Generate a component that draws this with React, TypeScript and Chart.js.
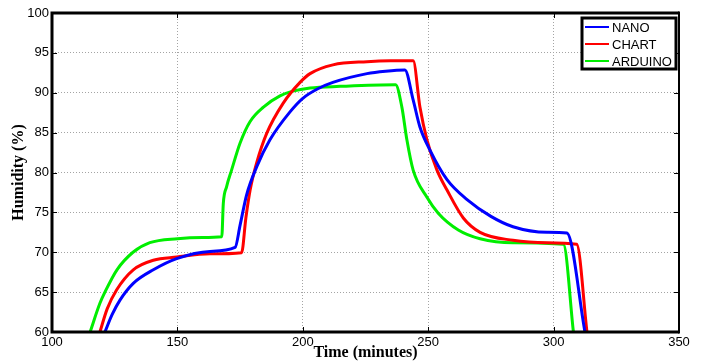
import React, { useEffect, useRef } from "react";
import { Chart, registerables } from "chart.js";

Chart.register(...registerables);

const xTicks = [100, 150, 200, 250, 300, 350];
const yTicks = [60, 65, 70, 75, 80, 85, 90, 95, 100];

const nanoT = [121.1, 124, 127.1, 132.4, 140.4, 149.7, 163, 173, 175, 177.6, 181.6, 186.9, 194.9, 200, 206, 212, 225.6, 233, 240.7, 244, 246.7, 250.7, 257.5, 265.5, 275, 283.8, 297.4, 305.3, 312.5];
const nanoH = [60, 62.2, 64.0, 66.1, 67.8, 69.2, 70.1, 70.6, 73.4, 77.2, 80.7, 84.1, 87.6, 89.3, 90.5, 91.3, 92.4, 92.7, 92.85, 89.1, 85.7, 82.8, 79.1, 76.6, 74.5, 73.2, 72.5, 72.4, 60];

const chartT = [119.1, 122, 125.8, 132.4, 140.4, 149.7, 163, 175.6, 177.3, 179, 181.6, 185.6, 192.2, 198.9, 202.9, 212, 225.6, 235, 244, 246.7, 249.5, 253.5, 257.5, 264, 270.7, 283.8, 297.4, 309.2, 313.3];
const chartH = [60, 62.9, 65.3, 67.8, 69.0, 69.4, 69.8, 69.95, 74.3, 77.8, 81.2, 84.9, 88.7, 91.3, 92.4, 93.5, 93.9, 94.0, 94.0, 88.2, 84.1, 80.3, 77.8, 74.3, 72.5, 71.5, 71.2, 71.0, 60];

const arduinoT = [115.2, 119.1, 121.1, 125.9, 132.3, 139, 150, 160, 167.7, 168.3, 169.6, 171.6, 175, 179, 184.3, 190.9, 196, 202.9, 215, 237, 239.5, 241.5, 244, 249.5, 254, 262, 270.7, 283.8, 303.9, 307.9];
const arduinoH = [60, 63.6, 65, 67.8, 70.0, 71.2, 71.7, 71.85, 71.95, 76.1, 78.2, 80.3, 83.7, 86.4, 88.2, 89.6, 90.2, 90.6, 90.8, 91.0, 88.2, 84.1, 80.3, 76.9, 74.9, 72.8, 71.7, 71.2, 71.0, 60];

const seriesNames = ["NANO", "CHART", "ARDUINO"];
const seriesColors = ["#0000ff", "#ff0000", "#00ee00"];

const toPts = (t: number[], h: number[]) => t.map((x, i) => ({ x, y: h[i] }));

const framePlugin = {
  id: "frame",
  afterDatasetsDraw(chart: any) {
    const { ctx, chartArea: a, scales } = chart;
    ctx.save();
    ctx.strokeStyle = "#000";
    ctx.lineWidth = 1;
    ctx.beginPath();
    xTicks.forEach((v) => {
      const px = Math.round(scales.x.getPixelForValue(v)) + 0.5;
      ctx.moveTo(px, a.top);
      ctx.lineTo(px, a.top + 5);
      ctx.moveTo(px, a.bottom);
      ctx.lineTo(px, a.bottom - 5);
    });
    yTicks.forEach((v) => {
      const py = Math.round(scales.y.getPixelForValue(v)) + 0.5;
      ctx.moveTo(a.left, py);
      ctx.lineTo(a.left + 5, py);
      ctx.moveTo(a.right, py);
      ctx.lineTo(a.right - 5, py);
    });
    ctx.stroke();
    ctx.lineWidth = 3;
    ctx.beginPath();
    ctx.moveTo(a.right, a.top);
    ctx.lineTo(a.left, a.top);
    ctx.lineTo(a.left, a.bottom);
    ctx.lineTo(a.right, a.bottom);
    ctx.stroke();
    ctx.lineWidth = 2;
    ctx.beginPath();
    ctx.moveTo(a.right, a.top - 1.5);
    ctx.lineTo(a.right, a.bottom + 1.5);
    ctx.stroke();

    // legend box
    const bx = a.right - 97;
    const by = a.top + 5;
    const bw = 94;
    const bh = 51;
    ctx.fillStyle = "#fff";
    ctx.fillRect(bx, by, bw, bh);
    ctx.lineWidth = 3;
    ctx.strokeRect(bx, by, bw, bh);
    ctx.font = "13px Arial, 'Liberation Sans', sans-serif";
    ctx.textBaseline = "middle";
    ctx.textAlign = "left";
    seriesNames.forEach((name, i) => {
      const ly = by + 9 + i * 17;
      ctx.strokeStyle = seriesColors[i];
      ctx.lineWidth = 2;
      ctx.beginPath();
      ctx.moveTo(bx + 3, ly);
      ctx.lineTo(bx + 27, ly);
      ctx.stroke();
      ctx.fillStyle = "#000";
      ctx.fillText(name, bx + 30, ly + 1);
    });
    ctx.restore();
  },
};

export default function App() {
  const ref = useRef<HTMLCanvasElement>(null);
  useEffect(() => {
    document.body.style.margin = "0";
    const tickFont = { family: "Arial, 'Liberation Sans', sans-serif", size: 13 };
    const titleFont = { family: "'Times New Roman', 'Liberation Serif', serif", size: 16, weight: "bold" as const };
    const series = [toPts(nanoT, nanoH), toPts(chartT, chartH), toPts(arduinoT, arduinoH)];
    const chart = new Chart(ref.current as HTMLCanvasElement, {
      type: "line",
      data: {
        datasets: series.map((d, i) => ({
          label: seriesNames[i],
          data: d,
          borderColor: seriesColors[i],
          backgroundColor: seriesColors[i],
          borderWidth: 3,
          pointRadius: 0,
          cubicInterpolationMode: "monotone" as const,
          fill: false,
        })),
      },
      options: {
        animation: false,
        responsive: false,
        layout: { padding: { top: 13, right: 22, left: 0, bottom: 0 } },
        plugins: { legend: { display: false }, tooltip: { enabled: false } },
        scales: {
          x: {
            type: "linear",
            min: 100,
            max: 350,
            afterBuildTicks: (s: any) => {
              s.ticks = xTicks.map((v) => ({ value: v }));
            },
            afterFit: (s: any) => {
              s.height = 30;
            },
            ticks: { font: tickFont, color: "#000", padding: 3, maxRotation: 0 },
            grid: { color: "#a4a4a4", drawTicks: false, lineWidth: 1 },
            border: { display: false, dash: [1, 2] },
            title: { display: true, text: "Time (minutes)", font: titleFont, color: "#000", padding: { top: 0, bottom: 0 } },
          },
          y: {
            type: "linear",
            min: 60,
            max: 100,
            afterBuildTicks: (s: any) => {
              s.ticks = yTicks.map((v) => ({ value: v }));
            },
            afterFit: (s: any) => {
              s.width = 52;
            },
            ticks: { font: tickFont, color: "#000", padding: 3 },
            grid: { color: "#a4a4a4", drawTicks: false, lineWidth: 1 },
            border: { display: false, dash: [1, 2] },
            title: { display: true, text: "Humidity (%)", font: titleFont, color: "#000", padding: { top: 9, bottom: 0 } },
          },
        },
      },
      plugins: [framePlugin],
    });
    return () => chart.destroy();
  }, []);
  return (
    <div style={{ width: 701, height: 362, background: "#fff" }}>
      <canvas ref={ref} width={701} height={362} style={{ display: "block" }} />
    </div>
  );
}
